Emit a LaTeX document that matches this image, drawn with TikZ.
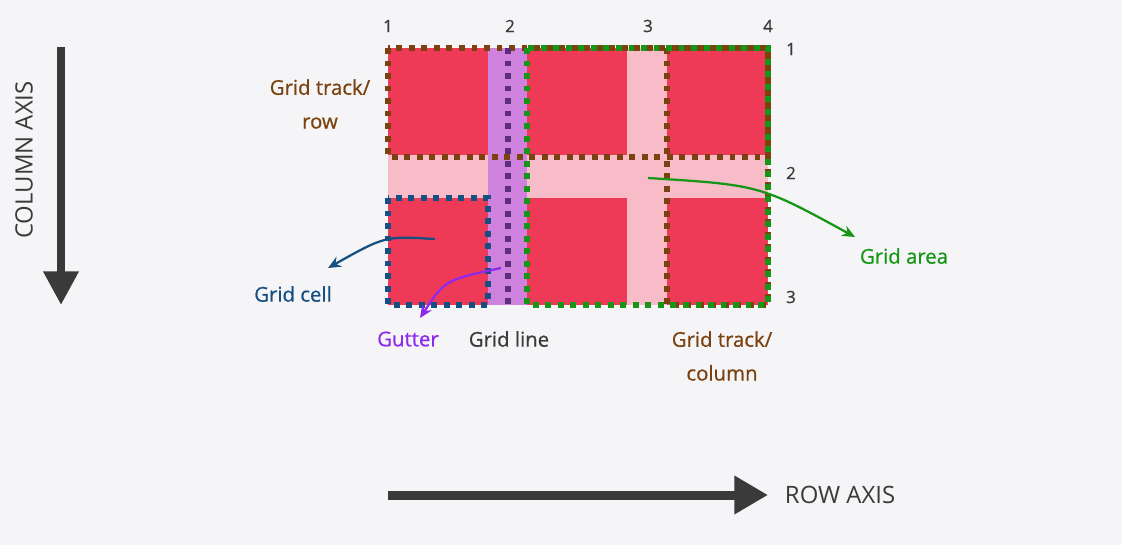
\documentclass[tikz,border=0pt]{standalone}
\usepackage{fontspec}
\setmainfont{Open Sans}
\newfontfamily\medfont{Open Sans}[FakeBold=0.7]
\usepackage{xcolor}
\definecolor{canvas}{RGB}{245,245,247}
\definecolor{cellred}{RGB}{238,58,86}
\definecolor{gappink}{RGB}{248,188,200}
\definecolor{gutterlilac}{RGB}{206,130,222}
\definecolor{linepurple}{RGB}{92,46,122}
\definecolor{trackbrown}{RGB}{122,66,16}
\definecolor{areagreen}{RGB}{22,150,22}
\definecolor{cellblue}{RGB}{22,80,130}
\definecolor{gutterviolet}{RGB}{140,40,240}
\definecolor{axisgray}{RGB}{58,58,58}
\usetikzlibrary{arrows.meta,positioning}

\tikzset{
  dots/.style={line width=4.2pt, dash pattern=on 4.2pt off 4.7pt},
  lbl/.style={font=\medfont\fontsize{14.5}{24}\selectfont, align=center},
  num/.style={font=\medfont\fontsize{12}{14}\selectfont, text=axisgray},
  axislbl/.style={font=\fontsize{17}{20}\selectfont, text=axisgray},
  pointer/.style={line width=1.6pt, -{Stealth[length=3.2mm, width=2.8mm]}},
}

\begin{document}
\begin{tikzpicture}[x=0.025cm, y=-0.025cm]
    % Canvas
    \fill[canvas] (0,0) rectangle (1122,545);
    \useasboundingbox (0,0) rectangle (1122,545);

    % Grid container: gaps, gutter and the six cells
    \fill[gappink] (388,48) rectangle (768,305);
    \fill[gutterlilac] (488,48) rectangle (527,305);
    \foreach \xa/\xb in {388/488, 527/627, 667/768} {
        \fill[cellred] (\xa,48) rectangle (\xb,155);
        \fill[cellred] (\xa,198) rectangle (\xb,305);
    }

    % Dotted outlines
    \draw[dots, trackbrown] (388,48) rectangle (768,157);
    \draw[dots, trackbrown] (667,48) rectangle (768,305);
    \draw[dots, linepurple] (508,48) -- (508,305);
    \draw[dots, cellblue] (388,198) rectangle (488,305);
    \draw[dots, areagreen] (527,48) rectangle (768,305);

    % Line numbers
    \foreach \x/\n in {388/1, 510/2, 648/3, 768/4}
        \node[num] (col\n) at (\x,26) {\n};
    \foreach \y/\n in {49/1, 173/2, 297/3}
        \node[num] (row\n) at (791,\y) {\n};

    % Labels
    \node[lbl, text=trackbrown] (lblrow) at (320,104) {Grid track/\\row};
    \node[lbl, text=trackbrown] (lblcol) at (722,356) {Grid track/\\column};
    \node[lbl, text=cellblue] (lblcell) at (293,294) {Grid cell};
    \node[lbl, text=gutterviolet] (lblgutter) at (408,339) {Gutter};
    \node[lbl, text=axisgray] (lblline) at (509,339) {Grid line};
    \node[lbl, text=areagreen] (lblarea) at (904,256) {Grid area};

    % Pointers
    \coordinate (cellstart) at (435,239);
    \coordinate (cellend) at (328,268);
    \coordinate (gutterstart) at (501,268);
    \coordinate (gutterend) at (420,318);
    \coordinate (areastart) at (648,178);
    \coordinate (areaend) at (855,237);
    \draw[pointer, cellblue] (cellstart) .. controls (385,236) .. (cellend);
    \draw[pointer, gutterviolet] (gutterstart) .. controls (445,280) .. (gutterend);
    \draw[pointer, areagreen] (areastart) .. controls (760,185) .. (areaend);

    % Axes
    \coordinate (colaxtop) at (61,47);
    \coordinate (colaxend) at (61,305);
    \coordinate (rowaxstart) at (388,495);
    \coordinate (rowaxend) at (768,495);
    \draw[axisgray, line width=5.7pt, -{Triangle[length=24pt, width=24pt]}] (colaxtop) -- (colaxend);
    \draw[axisgray, line width=6.4pt, -{Triangle[length=24pt, width=26pt]}] (rowaxstart) -- (rowaxend);
    \node[axislbl, rotate=90] (lblcolax) at (24,160) {COLUMN AXIS};
    \node[axislbl, anchor=west] (lblrowax) at (780,495) {ROW AXIS};
\end{tikzpicture}
\end{document}
